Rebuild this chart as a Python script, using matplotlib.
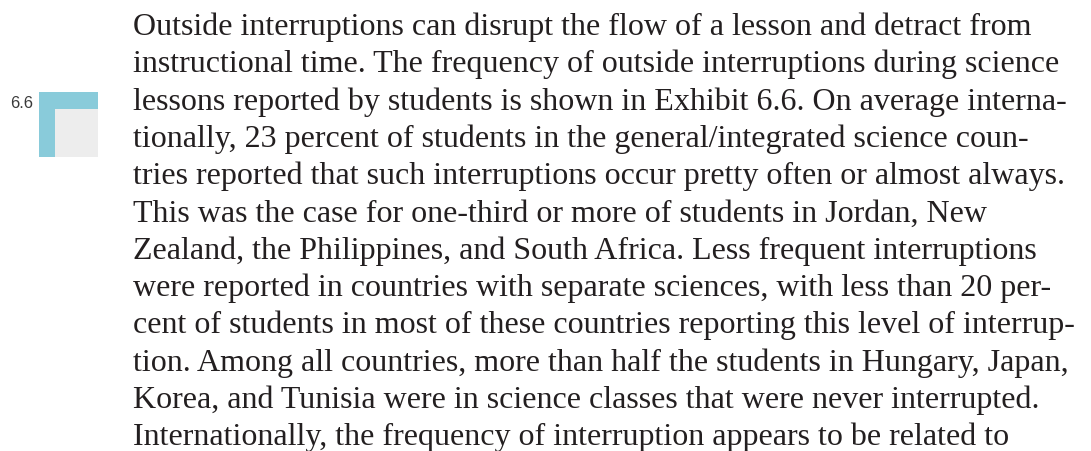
import matplotlib
matplotlib.use('Agg')
import matplotlib.pyplot as plt
from matplotlib.patches import Rectangle

# paragraph text, one entry per printed line
lines = [
    "Outside interruptions can disrupt the flow of a lesson and detract from",
    "instructional time. The frequency of outside interruptions during science",
    "lessons reported by students is shown in Exhibit 6.6. On average interna-",
    "tionally, 23 percent of students in the general/integrated science coun-",
    "tries reported that such interruptions occur pretty often or almost always.",
    "This was the case for one-third or more of students in Jordan, New",
    "Zealand, the Philippines, and South Africa. Less frequent interruptions",
    "were reported in countries with separate sciences, with less than 20 per-",
    "cent of students in most of these countries reporting this level of interrup-",
    "tion. Among all countries, more than half the students in Hungary, Japan,",
    "Korea, and Tunisia were in science classes that were never interrupted.",
    "Internationally, the frequency of interruption appears to be related to",
]
exhibit_label = "6.6"

W, H = 1091, 452
fig = plt.figure(figsize=(W / 100, H / 100), dpi=100)
ax = fig.add_axes([0, 0, 1, 1])
ax.set_xlim(0, W)
ax.set_ylim(H, 0)
ax.axis('off')

# text block
x0 = 133
baseline0 = 35
leading = 37.3
for i, s in enumerate(lines):
    ax.text(x0, baseline0 + i * leading, s, fontsize=23, family='Liberation Serif',
            color='#231f20', ha='left', va='baseline')

# exhibit marker in the margin
ax.add_patch(Rectangle((39, 93), 58.5, 64.5, facecolor='#89cbda', edgecolor='none'))
ax.add_patch(Rectangle((55, 109.5), 42.5, 48, facecolor='#ededed', edgecolor='none'))
ax.text(33, 104, exhibit_label, fontsize=12, family='Liberation Sans', color='#3a3a3a',
        ha='right', va='center')

plt.savefig('out.png', dpi=100)
